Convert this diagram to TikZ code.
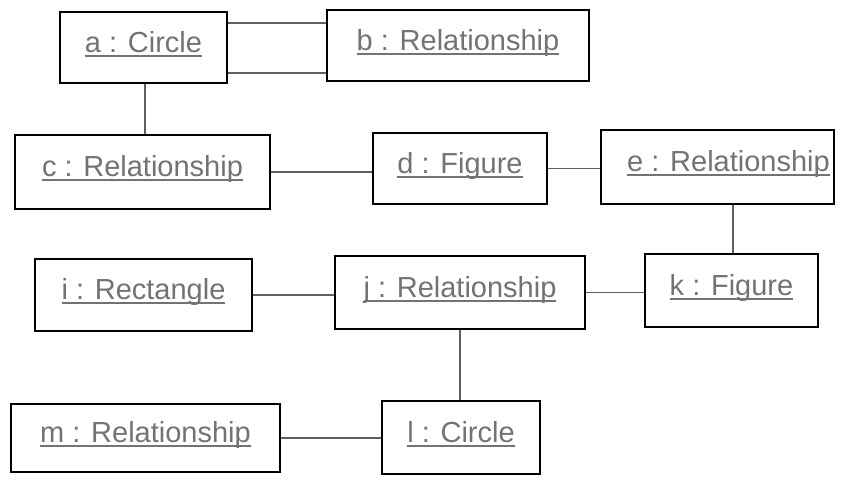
\documentclass[tikz,border=0pt]{standalone}
\usepackage{fontspec}
\setmainfont{Liberation Sans}
\definecolor{txtgray}{RGB}{115,115,115}
\definecolor{linegray}{RGB}{95,95,95}
\newcommand\ultext[1]{\setbox0=\hbox{#1}\leavevmode\rlap{\rule[-4.5pt]{\wd0}{1.8pt}}\box0}
\begin{document}
\begin{tikzpicture}[x=1pt,y=-1pt,
  objbox/.style={draw=black, line width=2.8pt, inner sep=0pt, fill=white,
    text=txtgray, font=\fontsize{29}{34}\selectfont,
    text height=21pt, text depth=12pt},
  conn/.style={draw=linegray, line width=1.5pt}]
\useasboundingbox (0,0) rectangle (852,480);
\node[objbox, minimum width=167pt, minimum height=71pt] (a) at (143.5,47.5) {\ultext{a : Circle}};
\node[objbox, minimum width=262pt, minimum height=71pt] (b) at (458,45.5) {\ultext{b : Relationship}};
\node[objbox, minimum width=255pt, minimum height=74pt] (c) at (142.5,172) {\ultext{c : Relationship}};
\node[objbox, minimum width=174pt, minimum height=71pt] (d) at (460,168.5) {\ultext{d : Figure}};
\node[objbox, minimum width=233pt, minimum height=74pt] (e) at (717.5,167) {\hspace*{22pt}\ultext{e : Relationship}};
\node[objbox, minimum width=217pt, minimum height=72pt] (i) at (143.5,295) {\ultext{i : Rectangle}};
\node[objbox, minimum width=250pt, minimum height=73pt] (j) at (460,292.5) {\ultext{j : Relationship}};
\node[objbox, minimum width=173pt, minimum height=73pt] (k) at (731.5,290.5) {\ultext{k : Figure}};
\node[objbox, minimum width=158pt, minimum height=73pt] (l) at (461,437.5) {\ultext{l : Circle}};
\node[objbox, minimum width=269pt, minimum height=68pt] (m) at (145.5,438) {\ultext{m : Relationship}};
\draw[conn] ([yshift=24.5pt]a.east) -- ([yshift=24.5pt]a.east -| b.west);
\draw[conn] ([yshift=-25.5pt]a.east) -- ([yshift=-25.5pt]a.east -| b.west);
\draw[conn] ([xshift=1.5pt]a.south) -- ([xshift=1.5pt]a.south |- c.north);
\draw[conn] (c.east) -- (c.east -| d.west);
\draw[conn] (d.east) -- (d.east -| e.west);
\draw[conn] ([xshift=1.5pt]k.north) -- ([xshift=1.5pt]k.north |- e.south);
\draw[conn] (i.east) -- (i.east -| j.west);
\draw[conn] (j.east) -- (j.east -| k.west);
\draw[conn] (j.south) -- (j.south |- l.north);
\draw[conn] (m.east) -- (m.east -| l.west);
\end{tikzpicture}
\end{document}
